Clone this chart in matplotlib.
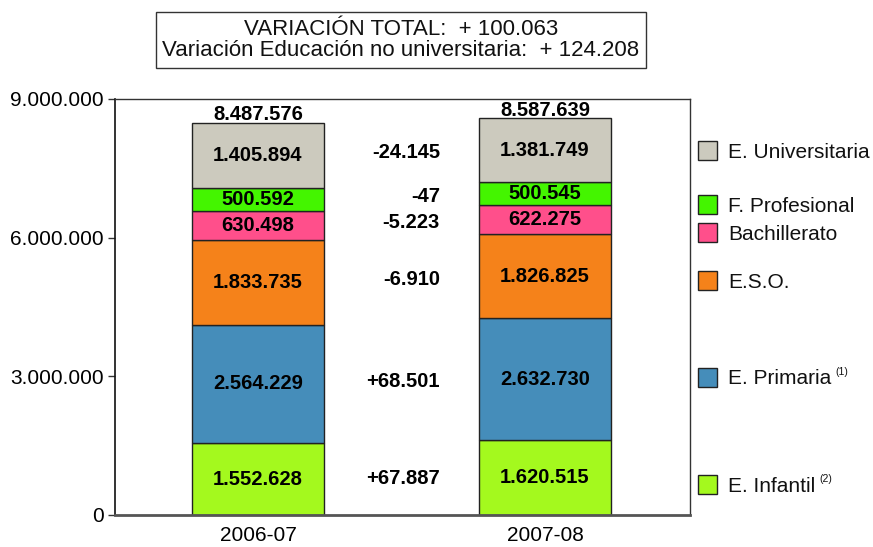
import matplotlib
matplotlib.use("Agg")
import matplotlib.pyplot as plt
from matplotlib import font_manager
from matplotlib.patches import Rectangle

def pick(names):
    for n in names:
        try:
            font_manager.findfont(n, fallback_to_default=False)
            return n
        except Exception:
            pass
    return "DejaVu Sans"

SANS = pick(["Liberation Sans", "Arial", "DejaVu Sans"])

# ---------------- data ----------------
years = ["2006-07", "2007-08"]
levels = ["E. Infantil", "E. Primaria", "E.S.O.", "Bachillerato", "F. Profesional", "E. Universitaria"]
infantil = [1552628, 1620515]
primaria = [2564229, 2632730]
eso = [1833735, 1826825]
bachillerato = [630498, 622275]
fprofesional = [500592, 500545]
universitaria = [1405894, 1381749]
totals = [8487576, 8587639]
variations = ["+67.887", "+68.501", "-6.910", "-5.223", "-47", "-24.145"]
colors = ["#a4f91e", "#458dba", "#f5821a", "#ff4f8b", "#44f500", "#cccabe"]
legend_sup = ["(2)", "(1)", "", "", "", ""]
yticks = [0, 3000000, 6000000, 9000000]
title_lines = ["VARIACIÓN TOTAL:  + 100.063", "Variación Educación no universitaria:  + 124.208"]

series = [infantil, primaria, eso, bachillerato, fprofesional, universitaria]

def fmt(v):
    return f"{v:,}".replace(",", ".")

plt.rcParams["font.family"] = [SANS, "DejaVu Sans"]

fig = plt.figure(figsize=(8.73, 5.47), dpi=100)
ax = fig.add_axes([115 / 873, 32 / 547, 575 / 873, 416 / 547])

x = [0, 1]
width = 0.46
bottoms = [0, 0]
centers = []
for vals, col in zip(series, colors):
    ax.bar(x, vals, width=width, bottom=bottoms, color=col, edgecolor="#222222", linewidth=1.0, zorder=2)
    cs = []
    for i in range(2):
        c = bottoms[i] + vals[i] / 2
        cs.append(c)
        ax.text(x[i], c, fmt(vals[i]), ha="center", va="center", fontsize=14.5,
                fontweight="bold", color="#000000", zorder=3)
    centers.append(cs)
    bottoms = [bottoms[i] + vals[i] for i in range(2)]

# totals
for i in range(2):
    ax.annotate(fmt(totals[i]), xy=(x[i], bottoms[i]), xytext=(0, -1), textcoords="offset points",
                ha="center", va="bottom", fontsize=14.5, fontweight="bold", color="#000000")

# variations
for lab, cs in zip(variations, centers):
    ax.text(0.634, (cs[0] + cs[1]) / 2, lab, ha="right", va="center", fontsize=14.5,
            fontweight="bold", color="#000000")

ax.set_xlim(-0.498, 1.505)
ax.set_ylim(0, 9000000)
ax.set_yticks(yticks)
ax.set_yticklabels([fmt(v) for v in yticks], fontsize=15)
ax.set_xticks(x)
ax.set_xticklabels(years, fontsize=15)
ax.tick_params(axis="x", length=0, pad=8)
ax.tick_params(axis="y", length=5, width=1.0, color="#333333", pad=3)
for s in ["top", "right"]:
    ax.spines[s].set_color("#333333")
    ax.spines[s].set_linewidth(1.0)
ax.spines["left"].set_color("#111111")
ax.spines["left"].set_linewidth(1.2)
ax.spines["bottom"].set_color("#555555")
ax.spines["bottom"].set_linewidth(2.0)

# legend (manual, irregular spacing)
leg_y = [484.5, 377, 280, 232, 204, 151]
for lab, col, sup, yp in zip(levels, colors, legend_sup, leg_y):
    yf = 1 - yp / 547
    fig.patches.append(Rectangle((698 / 873, yf - 9.5 / 547), 19 / 873, 19 / 547,
                                 transform=fig.transFigure, facecolor=col,
                                 edgecolor="#222222", linewidth=1.0))
    t = fig.text(728 / 873, yf - 2 / 547, lab, ha="left", va="center", fontsize=15, color="#111111")
    if sup:
        ax.annotate(sup, xy=(1, 0.62), xycoords=t, xytext=(3, 0), textcoords="offset points",
                    ha="left", va="bottom", fontsize=7.5, color="#111111", annotation_clip=False)

# title box
fig.text(401 / 873, 1 - 40 / 547, "\n".join(title_lines), ha="center", va="center",
         fontsize=16, linespacing=1.0, color="#111111",
         bbox=dict(boxstyle="square,pad=0.3", facecolor="white", edgecolor="#333333", linewidth=1.0))

fig.savefig("out.png", dpi=100)
